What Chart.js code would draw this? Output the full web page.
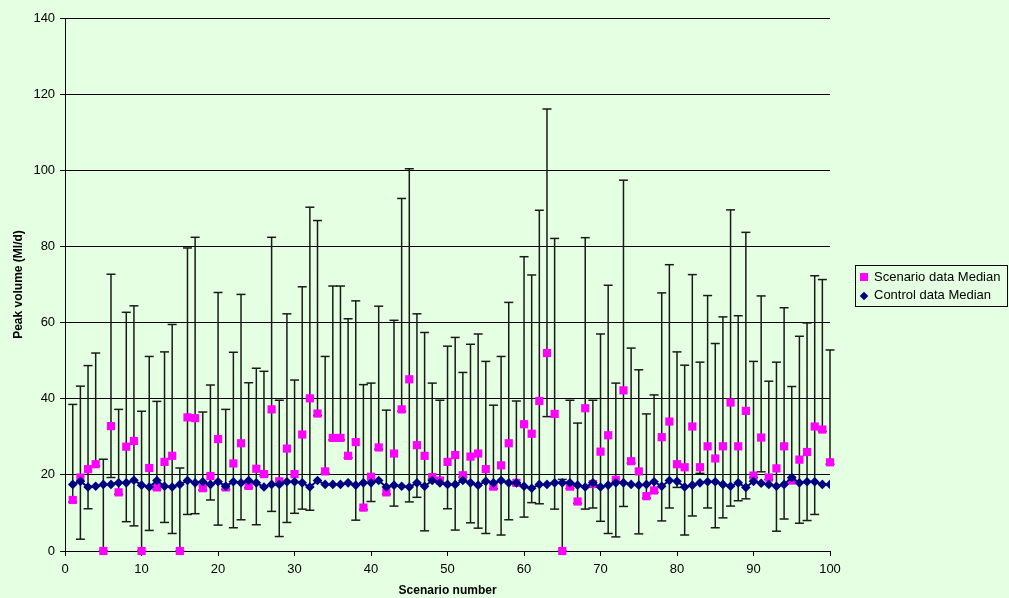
<!DOCTYPE html>
<html>
<head>
<meta charset="utf-8">
<script src="https://cdn.jsdelivr.net/npm/chart.js@4.4.1/dist/chart.umd.min.js"></script>
<style>
    html, body { margin: 0; padding: 0; background: #E4FFE1; }
    #wrap { position: relative; width: 1009px; height: 598px; }
    #chart-legend {
        position: absolute; left: 855px; top: 265px; width: 153px; height: 42px;
        box-sizing: border-box; border: 1px solid #000;
        font: 13px "Liberation Sans", Arial, sans-serif; color: #000;
        padding: 2px 0 0 3px;
    }
    .legend-item { height: 18px; line-height: 18px; white-space: nowrap; }
    .marker { display: inline-block; width: 8px; height: 8px; margin: 0 6px 0 1px; vertical-align: 0px; }
    .marker.diamond { width: 6px; height: 6px; transform: rotate(45deg); margin: 0 7px 0 2px; }
</style>
</head>
<body>
<div id="wrap">
    <canvas id="peakChart" width="1009" height="598"></canvas>
    <div id="chart-legend"></div>
</div>
<script>
// scenario number on x axis
const scenarios = [
    1, 2, 3, 4, 5, 6, 7, 8, 9, 10, 11, 12, 13, 14, 15, 16, 17, 18, 19, 20,
    21, 22, 23, 24, 25, 26, 27, 28, 29, 30, 31, 32, 33, 34, 35, 36, 37, 38, 39, 40,
    41, 42, 43, 44, 45, 46, 47, 48, 49, 50, 51, 52, 53, 54, 55, 56, 57, 58, 59, 60,
    61, 62, 63, 64, 65, 66, 67, 68, 69, 70, 71, 72, 73, 74, 75, 76, 77, 78, 79, 80,
    81, 82, 83, 84, 85, 86, 87, 88, 89, 90, 91, 92, 93, 94, 95, 96, 97, 98, 99, 100
];

// Scenario data median (Ml/d)
const scenarioMedian = [
    13.4, 19.3, 21.5, 22.8, 0, 32.8, 15.4, 27.4, 28.9, 0,
    21.8, 16.7, 23.4, 25.0, 0, 35.1, 34.9, 16.5, 19.7, 29.4,
    16.7, 23.0, 28.3, 17.1, 21.6, 20.2, 37.2, 18.3, 26.9, 20.2,
    30.6, 40.1, 36.1, 20.9, 29.7, 29.7, 25.0, 28.6, 11.4, 19.5,
    27.2, 15.4, 25.6, 37.2, 45.1, 27.8, 25.0, 19.4, 18.5, 23.4,
    25.2, 19.9, 24.8, 25.6, 21.5, 16.9, 22.5, 28.3, 17.9, 33.3,
    30.8, 39.4, 52.0, 36.0, 0, 16.9, 13.0, 37.5, 17.6, 26.1,
    30.4, 18.7, 42.2, 23.6, 20.9, 14.4, 15.9, 29.9, 34.0, 22.8,
    22.0, 32.7, 22.0, 27.5, 24.3, 27.5, 39.0, 27.5, 36.8, 19.8,
    29.8, 19.3, 21.7, 27.5, 18.5, 24.0, 26.0, 32.7, 31.9, 23.3
];

// error bar upper ends
const scenarioHigh = [
    38.5, 43.3, 48.7, 52.0, 24.1, 72.7, 37.2, 62.7, 64.4, 36.7,
    51.1, 39.3, 52.3, 59.5, 21.8, 79.6, 82.4, 36.5, 43.6, 67.9,
    37.2, 52.2, 67.4, 44.2, 48.0, 47.2, 82.4, 39.6, 62.3, 44.9,
    69.4, 90.3, 86.8, 51.1, 69.6, 69.6, 61.0, 65.7, 43.7, 44.1,
    64.3, 37.0, 60.6, 92.6, 100.4, 62.3, 57.4, 44.1, 39.6, 53.8,
    56.1, 46.9, 54.3, 57.0, 49.8, 38.3, 51.1, 65.3, 39.4, 77.3,
    72.5, 89.5, 116.1, 82.1, 18.8, 39.6, 33.6, 82.3, 39.6, 57.0,
    69.8, 44.1, 97.4, 53.3, 47.6, 36.0, 41.0, 67.8, 75.2, 52.3,
    48.8, 72.6, 49.6, 67.1, 54.5, 61.5, 89.6, 61.8, 83.7, 49.8,
    67.0, 44.6, 49.6, 63.9, 43.2, 56.4, 59.9, 72.3, 71.3, 52.8
];

// error bar lower ends
const scenarioLow = [
    12.9, 3.1, 11.1, 22.3, 0, 19.3, 14.9, 7.7, 6.6, 0,
    5.4, 16.2, 7.5, 4.6, 0, 9.6, 9.8, 16.0, 13.4, 6.8,
    16.2, 6.1, 8.2, 16.6, 6.9, 19.7, 10.4, 3.8, 7.5, 9.9,
    11.0, 10.7, 35.6, 20.4, 29.2, 29.2, 24.5, 8.1, 10.9, 13.0,
    26.7, 14.9, 11.8, 36.7, 12.9, 14.1, 5.3, 18.9, 18.0, 11.1,
    5.5, 19.4, 7.4, 6.0, 4.6, 16.4, 4.2, 8.2, 17.4, 8.9,
    12.7, 12.4, 35.3, 11.0, 0, 16.4, 12.5, 11.0, 11.3, 7.8,
    4.6, 3.7, 11.7, 23.1, 4.5, 13.9, 15.4, 7.9, 11.3, 16.7,
    4.2, 9.2, 20.4, 11.3, 6.1, 8.7, 11.8, 13.2, 13.7, 19.3,
    20.8, 18.8, 5.2, 8.4, 18.0, 7.3, 8.0, 9.6, 31.4, 22.8
];

// Control data median (Ml/d)
const controlMedian = [
    17.5, 18.3, 16.8, 17.0, 17.5, 17.5, 17.9, 17.9, 18.6, 17.3,
    16.8, 18.5, 17.0, 16.8, 17.5, 18.5, 17.9, 18.2, 17.5, 18.2,
    17.0, 18.2, 17.9, 18.5, 17.9, 16.8, 17.5, 17.5, 18.2, 18.2,
    17.9, 16.8, 18.5, 17.5, 17.5, 17.5, 17.9, 17.3, 17.9, 17.9,
    18.5, 16.8, 17.3, 17.0, 16.8, 17.9, 17.0, 18.5, 17.9, 17.5,
    17.5, 18.5, 17.9, 17.3, 18.3, 17.9, 18.5, 17.9, 17.9, 17.0,
    16.5, 17.5, 17.5, 17.9, 17.9, 17.9, 17.3, 16.8, 17.9, 16.8,
    17.3, 17.9, 17.9, 17.5, 17.3, 17.5, 18.2, 17.0, 18.5, 18.3,
    16.8, 17.3, 17.9, 18.2, 18.2, 17.5, 17.0, 17.9, 16.7, 18.3,
    17.8, 17.5, 17.0, 17.5, 19.3, 17.9, 18.2, 18.2, 17.5, 17.5
];

const yTicks = [0, 20, 40, 60, 80, 100, 120, 140];
const xTicks = [0, 10, 20, 30, 40, 50, 60, 70, 80, 90, 100];

const FONT = '"Liberation Sans", Arial, sans-serif';

// vertical error bars: low -> high, then a gap
const errorPoints = [];
scenarios.forEach((s, i) => {
    errorPoints.push({ x: s, y: scenarioLow[i] });
    errorPoints.push({ x: s, y: scenarioHigh[i] });
    errorPoints.push({ x: s, y: null });
});

const datasets = [
    {
        label: 'Control data Median',
        data: scenarios.map((s, i) => ({ x: s, y: controlMedian[i] })),
        showLine: true,
        borderColor: '#000080',
        backgroundColor: '#000080',
        borderWidth: 2,
        pointStyle: 'rectRot',
        pointRadius: 4.8,
        pointBorderWidth: 0,
        order: 0
    },
    {
        label: 'Scenario data Median',
        data: scenarios.map((s, i) => ({ x: s, y: scenarioMedian[i] })),
        showLine: false,
        borderColor: '#FF00FF',
        backgroundColor: '#FF00FF',
        pointStyle: 'rect',
        pointRadius: 5.8,
        pointBorderWidth: 0,
        clip: false,
        order: 1
    },
    {
        label: 'range',
        data: errorPoints,
        showLine: true,
        spanGaps: false,
        borderColor: '#1a1a1a',
        borderWidth: 1.5,
        pointStyle: 'line',
        pointRadius: 4.5,
        pointBorderColor: '#1a1a1a',
        pointBorderWidth: 1.5,
        clip: false,
        order: 2
    }
];

const ctx = document.getElementById('peakChart').getContext('2d');
new Chart(ctx, {
    type: 'scatter',
    data: { datasets: datasets },
    options: {
        responsive: false,
        animation: false,
        layout: { padding: { left: 6, top: 18, right: 179, bottom: 0 } },
        plugins: {
            legend: { display: false },
            tooltip: { enabled: false }
        },
        scales: {
            x: {
                type: 'linear',
                min: 0,
                max: 100,
                afterBuildTicks: axis => { axis.ticks = xTicks.map(v => ({ value: v })); },
                ticks: { color: '#000', font: { family: FONT, size: 13 }, padding: 6, maxRotation: 0 },
                grid: { drawOnChartArea: false, color: '#000', tickLength: 5 },
                border: { color: '#000', width: 1 },
                title: {
                    display: true, text: 'Scenario number', color: '#000',
                    font: { family: FONT, size: 12, weight: 'bold' },
                    padding: { top: 0, bottom: 0 }
                }
            },
            y: {
                min: 0,
                max: 140,
                afterBuildTicks: axis => { axis.ticks = yTicks.map(v => ({ value: v })); },
                ticks: { color: '#000', font: { family: FONT, size: 13 }, padding: 5 },
                grid: { color: '#000', lineWidth: 1, tickLength: 5 },
                border: { color: '#000', width: 1 },
                title: {
                    display: true, text: 'Peak volume (Ml/d)', color: '#000',
                    font: { family: FONT, size: 12, weight: 'bold' },
                    padding: { top: 5, bottom: 3 }
                }
            }
        }
    }
});

// HTML legend (scenario first, like the original)
const legendContainer = document.getElementById('chart-legend');
[datasets[1], datasets[0]].forEach(ds => {
    const item = document.createElement('div');
    item.className = 'legend-item';
    const cls = ds.pointStyle === 'rectRot' ? 'marker diamond' : 'marker';
    item.innerHTML = `<span class="${cls}" style="background-color: ${ds.backgroundColor}"></span>${ds.label}`;
    legendContainer.appendChild(item);
});
</script>
</body>
</html>
